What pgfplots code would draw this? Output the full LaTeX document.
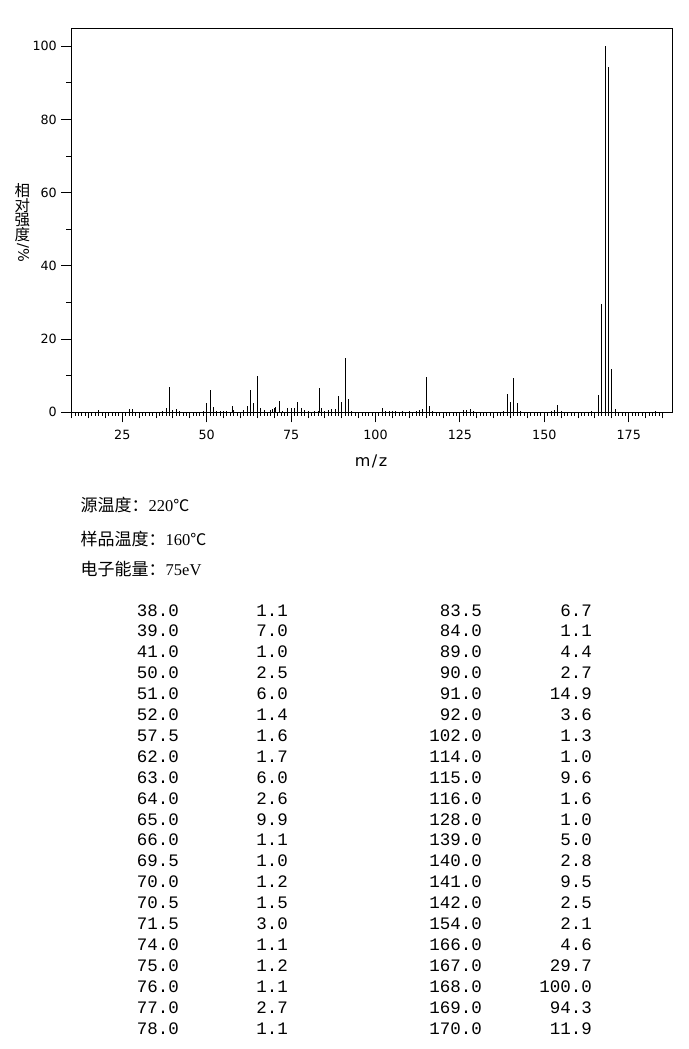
\documentclass[border=0pt]{standalone}
\usepackage{pgfplots}
\pgfplotsset{compat=1.18}
\usepackage{fontspec}
\setmainfont{Liberation Serif}
\newfontfamily\cjk{Noto Sans CJK SC}
\newfontfamily\dejavu{DejaVu Sans}
\newfontfamily\mono{Liberation Mono}
\newcommand\tabfont{\mono\fontsize{17.5bp}{20bp}\selectfont}
\newcommand\hdrfont{\fontsize{16.5bp}{18bp}\selectfont}

\pgfplotstableread{
mz I
18 0.5
27 0.8
28 0.8
37 0.4
38 1.1
39 7.0
40 0.6
41 1.0
42 0.3
49 0.3
50 2.5
51 6.0
52 1.4
53 0.4
54 0.3
55 0.3
56 0.4
57.5 1.6
58 0.6
61 0.5
62 1.7
63 6.0
64 2.6
65 9.9
66 1.1
67 0.7
69 0.6
69.5 1.0
70 1.2
70.5 1.5
71.5 3.0
72.5 0.4
74 1.1
75 1.2
76 1.1
77 2.7
78 1.1
79 0.5
80 0.3
82 0.3
83 0.4
83.5 6.7
84 1.1
85 0.4
86 0.6
87 0.8
88 0.8
89 4.4
90 2.7
91 14.9
92 3.6
93 0.4
102 1.3
103 0.4
104 0.4
105 0.3
106 0.3
108 0.4
110 0.3
112 0.3
113 0.7
114 1.0
115 9.6
116 1.6
117 0.4
126 0.5
127 0.7
128 1.0
129 0.3
138 0.4
139 5.0
140 2.8
141 9.5
142 2.5
143 0.4
152 0.3
153 0.5
154 2.1
155 0.3
164 0.3
166 4.6
167 29.7
168 100
169 94.3
170 11.9
171 0.8
183 0.3
}\spectrum

\begin{document}
\begin{tikzpicture}
\begin{axis}[
  at={(0,0)}, anchor=south west,
  scale only axis, width=601.3bp, height=384bp,
  xmin=9.8, xmax=187.9, ymin=0, ymax=104.9,
  axis line style={line width=1bp, black},
  tick align=outside,
  xtick pos=left, ytick pos=left,
  tick style={line width=1bp, black},
  major tick length=10bp, minor tick length=3.5bp,
  xtick={25,50,...,175},
  minor xtick={10,...,185},
  extra x ticks={10,15,20,30,35,40,45,55,60,65,70,80,85,90,95,105,110,115,120,130,135,140,145,155,160,165,170,180,185},
  extra x tick labels={},
  extra x tick style={major tick length=6bp, tick style={line width=1bp, black}},
  ytick={0,20,...,100},
  extra y ticks={10,30,50,70,90},
  extra y tick labels={},
  extra y tick style={major tick length=5bp, tick style={line width=1bp, black}},
  /pgf/number format/assume math mode=true,
  tick label style={font=\dejavu\fontsize{12.7bp}{15bp}\selectfont, inner sep=0pt},
  yticklabel style={anchor=east, xshift=-4bp},
  xticklabel style={anchor=north, yshift=-7.5bp},
]
\addplot[ycomb, line width=1bp, black, mark=none] table[x=mz, y=I] {\spectrum};
\end{axis}
\begin{scope}[x=1bp, y=-1bp, shift={(-71bp,412.3bp)}, every node/.style={inner sep=0pt}]
\path[use as bounding box] (0,0) rectangle (689,1049);
% y label
\node[font=\cjk\fontsize{15.5bp}{15.5bp}\selectfont] at (22.5,191) {相};
\node[font=\cjk\fontsize{15.5bp}{15.5bp}\selectfont] at (22.5,205.8) {对};
\node[font=\cjk\fontsize{15.5bp}{15.5bp}\selectfont] at (22.5,220.3) {强};
\node[font=\cjk\fontsize{15.5bp}{15.5bp}\selectfont] at (22.5,234.6) {度};
\node[rotate=-90, font=\dejavu\fontsize{14.5bp}{15bp}\selectfont] at (23,252.5) {/\%};
% x label
\node[font=\dejavu\fontsize{16bp}{16bp}\selectfont] at (371,461) {m\kern1.5bp/\kern1.5bp z};
% header text
\node[anchor=base west] at (80.5,511) {{\cjk\fontsize{17bp}{18bp}\selectfont 源温度：}\hdrfont 220{\cjk\fontsize{16bp}{18bp}\selectfont ℃}};
\node[anchor=base west] at (80.5,545) {{\cjk\fontsize{17bp}{18bp}\selectfont 样品温度：}\hdrfont 160{\cjk\fontsize{16bp}{18bp}\selectfont ℃}};
\node[anchor=base west] at (80.5,575) {{\cjk\fontsize{17bp}{18bp}\selectfont 电子能量：}\hdrfont 75eV};
% peak table
\foreach \a/\b/\c/\d [count=\i from 0] in {
38.0/1.1/83.5/6.7,
39.0/7.0/84.0/1.1,
41.0/1.0/89.0/4.4,
50.0/2.5/90.0/2.7,
51.0/6.0/91.0/14.9,
52.0/1.4/92.0/3.6,
57.5/1.6/102.0/1.3,
62.0/1.7/114.0/1.0,
63.0/6.0/115.0/9.6,
64.0/2.6/116.0/1.6,
65.0/9.9/128.0/1.0,
66.0/1.1/139.0/5.0,
69.5/1.0/140.0/2.8,
70.0/1.2/141.0/9.5,
70.5/1.5/142.0/2.5,
71.5/3.0/154.0/2.1,
74.0/1.1/166.0/4.6,
75.0/1.2/167.0/29.7,
76.0/1.1/168.0/100.0,
77.0/2.7/169.0/94.3,
78.0/1.1/170.0/11.9}{
  \pgfmathsetmacro\yy{616+20.9*\i}
  \node[anchor=base east, font=\tabfont] at (179,\yy) {\a};
  \node[anchor=base east, font=\tabfont] at (288,\yy) {\b};
  \node[anchor=base east, font=\tabfont] at (482,\yy) {\c};
  \node[anchor=base east, font=\tabfont] at (592,\yy) {\d};
}
\end{scope}
\end{tikzpicture}
\end{document}
